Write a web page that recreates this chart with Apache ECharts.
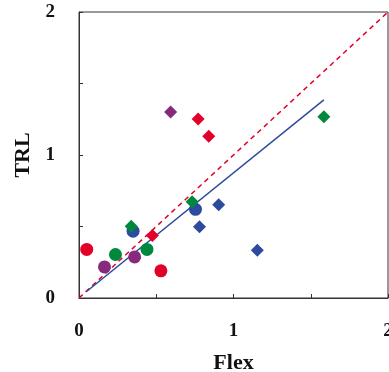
<!DOCTYPE html>
<html>
<head>
<meta charset="utf-8">
<script src="https://cdn.jsdelivr.net/npm/echarts@6/dist/echarts.min.js"></script>
<style>
  html, body { margin: 0; padding: 0; background: #fff; }
  #chart { width: 389px; height: 372px; }
</style>
</head>
<body>
<div id="chart"></div>
<script>
// 数据点 [Flex, TRL]
const redCircles = [[0.05, 0.34], [0.53, 0.19]];
const purpleCircles = [[0.165, 0.217], [0.36, 0.287]];
const greenCircles = [[0.236, 0.304], [0.44, 0.34]];
const blueCircles = [[0.35, 0.467], [0.754, 0.62]];

const redDiamonds = [[0.771, 1.252], [0.84, 1.131], [0.475, 0.437]];
const purpleDiamonds = [[0.593, 1.30]];
const greenDiamonds = [[1.585, 1.268], [0.732, 0.673], [0.338, 0.502]];
const blueDiamonds = [[0.904, 0.652], [0.78, 0.498], [1.154, 0.334]];

// 1:1 线 与 回归线
const identityLine = [[0, 0], [2, 2]];
const fitLine = [[0.051, 0.047], [1.585, 1.385]];

const axisTicks = [0, 1, 2];

const RED = '#e2002a', PURPLE = '#87297d', GREEN = '#00883c', BLUE = '#2d4b9e';
const FONT = 'Liberation Serif';

const chart = echarts.init(document.getElementById('chart'), null, { renderer: 'canvas' });

function axis(name, margin, gap) {
  return {
    type: 'value',
    min: 0,
    max: 2,
    interval: 0.5,
    name: name,
    nameLocation: 'middle',
    nameGap: gap,
    nameTextStyle: { fontFamily: FONT, fontWeight: 'bold', fontSize: 22, color: '#111' },
    axisLine: { show: true, lineStyle: { color: '#333', width: 1 } },
    axisTick: { show: true, inside: true, length: 4, lineStyle: { color: '#333' } },
    splitLine: { show: false },
    axisLabel: {
      margin: margin,
      fontFamily: FONT, fontWeight: 'bold', fontSize: 19, color: '#111',
      formatter: (v) => (axisTicks.includes(v) ? String(v) : '')
    }
  };
}

const scatter = (data, color, symbol, size) => ({
  type: 'scatter',
  data: data,
  symbol: symbol,
  symbolSize: size,
  itemStyle: { color: color, opacity: 1 },
  z: 3
});

chart.setOption({
  animation: false,
  grid: {
    left: 79, right: 1, top: 12, bottom: 74,
    containLabel: false,
    outerBoundsMode: 'none',
    show: true, borderColor: '#333', borderWidth: 1
  },
  xAxis: axis('Flex', 24, 54),
  yAxis: axis('TRL', 24, 45),
  series: [
    {
      type: 'line', data: identityLine, symbol: 'none', silent: true, z: 2,
      lineStyle: { color: RED, width: 1.5, type: [5, 4] }
    },
    {
      type: 'line', data: fitLine, symbol: 'none', silent: true, z: 2,
      lineStyle: { color: BLUE, width: 1.5 }
    },
    scatter(redCircles, RED, 'circle', 13),
    scatter(purpleCircles, PURPLE, 'circle', 13),
    scatter(greenCircles, GREEN, 'circle', 13),
    scatter(blueCircles, BLUE, 'circle', 13),
    scatter(redDiamonds, RED, 'diamond', 13),
    scatter(purpleDiamonds, PURPLE, 'diamond', 13),
    scatter(greenDiamonds, GREEN, 'diamond', 13),
    scatter(blueDiamonds, BLUE, 'diamond', 13)
  ]
});
</script>
</body>
</html>
